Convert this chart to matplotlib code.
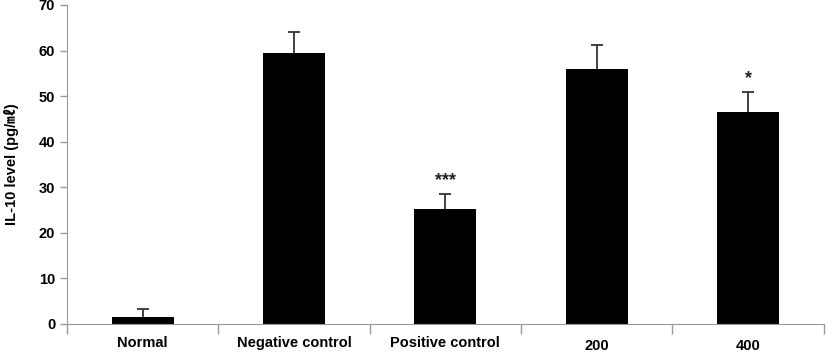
import matplotlib.pyplot as plt
from matplotlib.transforms import ScaledTranslation

plt.rcParams['font.family'] = ['Liberation Sans', 'Noto Sans CJK SC', 'DejaVu Sans']

groups = ["Normal", "Negative control", "Positive control", "200", "400"]
il10 = [1.5, 59.5, 25.3, 56.0, 46.4]
err = [1.8, 4.6, 3.2, 5.2, 4.5]
marks = ["", "", "***", "", "*"]

fig = plt.figure(figsize=(8.27, 3.54), dpi=100)
ax = fig.add_axes([0.081, 0.085, 0.915, 0.901])

pos = [i + 0.5 for i in range(len(groups))]
tops = [v + e for v, e in zip(il10, err)]
ax.bar(pos, il10, width=0.41, color='black', zorder=2)
# upper error bars only, no cap at the bar top
ax.vlines(pos, il10, tops, color='#333333', lw=1.3, zorder=1)
ax.plot(pos, tops, ls='none', marker='_', ms=8, mew=1.3, color='#333333', zorder=1)

for x, t, m in zip(pos, tops, marks):
    if m:
        ax.text(x, t + 3.0, m, ha='center', va='center', fontsize=13,
                fontweight='bold', color='#222222')

ax.set_xlim(0, 5)
ax.set_ylim(0, 70)
ax.set_yticks(range(0, 71, 10))
ax.set_xticks(range(0, 6))
ax.set_xticklabels([])
ax.set_xticks(pos, minor=True)
ax.set_xticklabels(groups, minor=True)
ax.tick_params(axis='x', which='major', length=7, color='#999999', width=1)
ax.tick_params(axis='x', which='minor', length=0, pad=9)
ax.tick_params(axis='y', length=5, color='#999999', width=1)
for lab in ax.get_xticklabels(minor=True) + ax.get_yticklabels():
    lab.set_fontweight('bold')
    lab.set_fontsize(10.5)
for lab in ax.get_xticklabels(minor=True)[3:]:
    lab.set_transform(lab.get_transform() + ScaledTranslation(0, -2 / 72, fig.dpi_scale_trans))

for s in ['top', 'right']:
    ax.spines[s].set_visible(False)
for s in ['left', 'bottom']:
    ax.spines[s].set_color('#999999')

ax.set_ylabel("IL-10 level (pg/㎖)", fontsize=10.5, fontweight='bold', labelpad=14)

fig.savefig('out.png', dpi=100)
